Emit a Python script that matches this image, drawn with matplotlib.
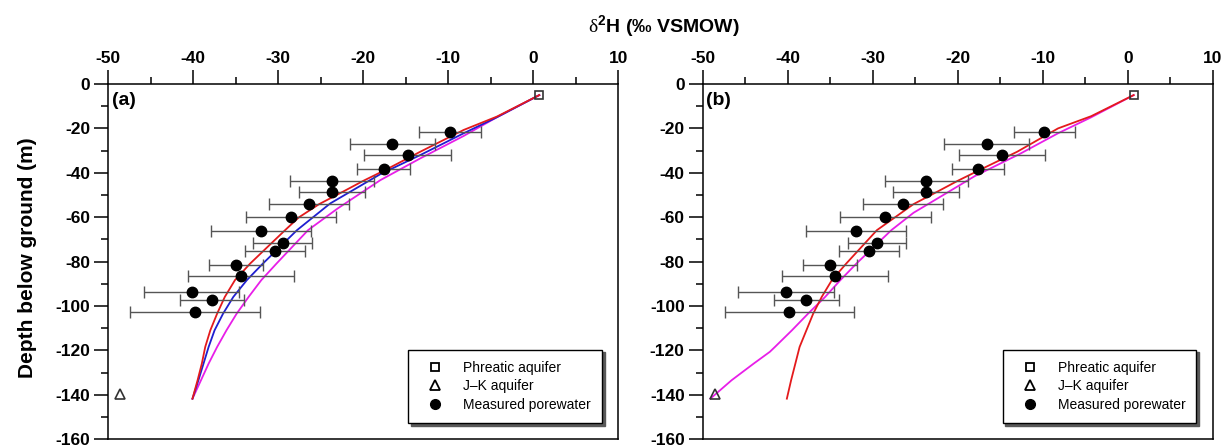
import matplotlib
matplotlib.use('Agg')
import matplotlib.pyplot as plt
from matplotlib.lines import Line2D
from matplotlib.ticker import MultipleLocator

plt.rcParams['font.family'] = ['Liberation Sans', 'DejaVu Sans']
plt.rcParams['axes.unicode_minus'] = False
plt.rcParams['mathtext.fontset'] = 'custom'
plt.rcParams['mathtext.rm'] = 'Liberation Serif'
plt.rcParams['mathtext.bf'] = 'Liberation Sans:bold'

# measured porewater (d2H, depth, error)
pw_d2h = [-9.8, -16.6, -14.8, -17.6, -23.7, -23.7, -26.4, -28.5, -32.0, -29.5,
          -30.4, -35.0, -34.4, -40.2, -37.8, -39.8]
pw_depth = [-21.8, -27.0, -32.2, -38.5, -43.6, -48.5, -54.1, -60.1, -66.1, -71.6,
            -75.3, -81.3, -86.5, -93.6, -97.4, -102.6]
pw_err = [3.6, 5.0, 5.1, 3.1, 4.9, 3.9, 4.7, 5.3, 5.9, 3.45,
          3.55, 3.2, 6.25, 5.6, 3.8, 7.6]

# end members
phreatic = (0.7, -5.0)
jk = (-48.6, -139.7)

# model curves, panel (a)
a_red_x = [0.7, -4.3, -8.2, -13.3, -17.3, -20.0, -22.4, -25.2, -27.6, -29.2, -33.3, -35.1,
           -36.3, -37.2, -38.0, -38.6, -39.0, -39.5, -40.1]
a_red_y = [-5, -14.7, -20.7, -30.5, -38.5, -43.6, -48.5, -54.1, -60.1, -65.8, -80.8, -88.3,
           -95.9, -103.4, -110.9, -118.4, -125.9, -133.4, -141.7]
a_blue_x = [0.7, -4.3, -8.2, -13.3, -18.0, -23.9, -27.8, -31.8, -33.7, -35.3, -36.5, -37.5,
            -38.2, -38.8, -39.4, -40.1]
a_blue_y = [-5, -15.0, -22.2, -32.0, -40.6, -53.8, -65.8, -80.8, -88.3, -95.9, -103.4, -110.9,
            -118.4, -125.9, -133.4, -141.7]
a_mag_x = [0.7, -4.3, -8.2, -13.3, -18.0, -23.0, -26.5, -30.2, -32.0, -33.5, -34.9, -36.1,
           -37.2, -38.2, -39.1, -40.1]
a_mag_y = [-5, -15.0, -23.4, -33.5, -43.3, -56.0, -65.8, -80.8, -88.3, -95.9, -103.4, -110.9,
           -118.4, -125.9, -133.4, -141.7]

# model curves, panel (b)
b_red_x = [0.7, -4.3, -8.2, -13.0, -17.3, -20.0, -22.4, -25.2, -27.4, -29.5, -33.1, -34.8,
           -36.0, -37.0, -37.8, -38.6, -39.1, -39.6, -40.1]
b_red_y = [-5, -14.5, -20.0, -30.5, -38.5, -43.6, -48.5, -54.1, -60.1, -65.8, -80.8, -88.3,
           -95.9, -103.4, -110.9, -118.4, -125.9, -133.4, -141.7]
b_mag_x = [0.7, -4.3, -8.2, -12.7, -18.0, -21.7, -25.2, -27.8, -31.9, -33.8, -35.6, -37.6,
           -39.5, -41.5, -42.1, -44.0, -46.6, -49.1]
b_mag_y = [-5, -15.0, -22.2, -31.5, -41.5, -50.0, -58.0, -65.8, -80.8, -88.3, -95.9, -103.4,
           -110.9, -118.4, -120.6, -125.9, -133.4, -141.7]

RED = '#e41a1c'
BLUE = '#1f1fd0'
MAG = '#e81ee8'

fig = plt.figure(figsize=(12.24, 4.46), dpi=100)
ax_a = fig.add_axes([0.0885, 0.015, 0.4167, 0.7967])
ax_b = fig.add_axes([0.5741, 0.015, 0.4167, 0.7967])


def setup(ax, label):
    ax.set_xlim(-50, 10)
    ax.set_ylim(-160, 0)
    ax.xaxis.tick_top()
    ax.xaxis.set_major_locator(MultipleLocator(10))
    ax.xaxis.set_minor_locator(MultipleLocator(5))
    ax.yaxis.set_major_locator(MultipleLocator(20))
    ax.yaxis.set_minor_locator(MultipleLocator(10))
    ax.tick_params(which='both', direction='out', top=True, bottom=False,
                   left=True, right=False, width=1.1, labelsize=12.5, pad=3)
    ax.tick_params(which='major', length=10)
    ax.tick_params(which='minor', length=5)
    for t in ax.get_xticklabels() + ax.get_yticklabels():
        t.set_fontweight('bold')
    for s in ax.spines.values():
        s.set_linewidth(1.1)
    ax.text(0.007, 0.978, label, transform=ax.transAxes, fontsize=14,
            fontweight='bold', va='top', ha='left')


def points(ax):
    ax.errorbar(pw_d2h, pw_depth, xerr=pw_err, fmt='none', ecolor='#555555',
                elinewidth=1.0, capsize=4.5, capthick=1.0, zorder=3)
    ax.plot(pw_d2h, pw_depth, 'o', color='black', markersize=7.5, zorder=4)
    ax.plot(*phreatic, 's', mfc='none', mec='#333333', markersize=6, mew=1.2, zorder=5)
    ax.plot(*jk, '^', mfc='none', mec='#333333', markersize=6.5, mew=1.2, zorder=5)


def legend(ax):
    handles = [
        Line2D([], [], ls='none', marker='s', mfc='none', mec='black', markersize=6, mew=1.3),
        Line2D([], [], ls='none', marker='^', mfc='none', mec='black', markersize=6.5, mew=1.3),
        Line2D([], [], ls='none', marker='o', color='black', markersize=7),
    ]
    labels = ['Phreatic aquifer', 'J\u2013K aquifer', 'Measured porewater']
    leg = ax.legend(handles, labels, loc='lower right', bbox_to_anchor=(0.968, 0.046),
                    fontsize=10, frameon=True, fancybox=False, borderpad=0.8,
                    labelspacing=0.33, handlelength=2.3, handletextpad=0.85,
                    borderaxespad=0, shadow={'color': '0.35', 'alpha': 1.0})
    leg.get_frame().set_edgecolor('black')
    leg.get_frame().set_linewidth(1.0)


setup(ax_a, '(a)')
ax_a.plot(a_mag_x, a_mag_y, color=MAG, lw=1.3, zorder=2)
ax_a.plot(a_blue_x, a_blue_y, color=BLUE, lw=1.3, zorder=2)
ax_a.plot(a_red_x, a_red_y, color=RED, lw=1.3, zorder=2)
points(ax_a)
legend(ax_a)
ax_a.set_ylabel('Depth below ground (m)', fontsize=15, fontweight='bold')
ax_a.yaxis.set_label_coords(-0.14, 0.51)

setup(ax_b, '(b)')
ax_b.plot(b_mag_x, b_mag_y, color=MAG, lw=1.3, zorder=2)
ax_b.plot(b_red_x, b_red_y, color=RED, lw=1.3, zorder=2)
points(ax_b)
legend(ax_b)

fig.text(0.5425, 0.94, r'$\mathrm{\delta}^{\mathbf{2}}$H (' + '\u2030' + ' VSMOW)',
         ha='center', va='center', fontsize=14, fontweight='bold')

fig.savefig('out.png', dpi=100)
